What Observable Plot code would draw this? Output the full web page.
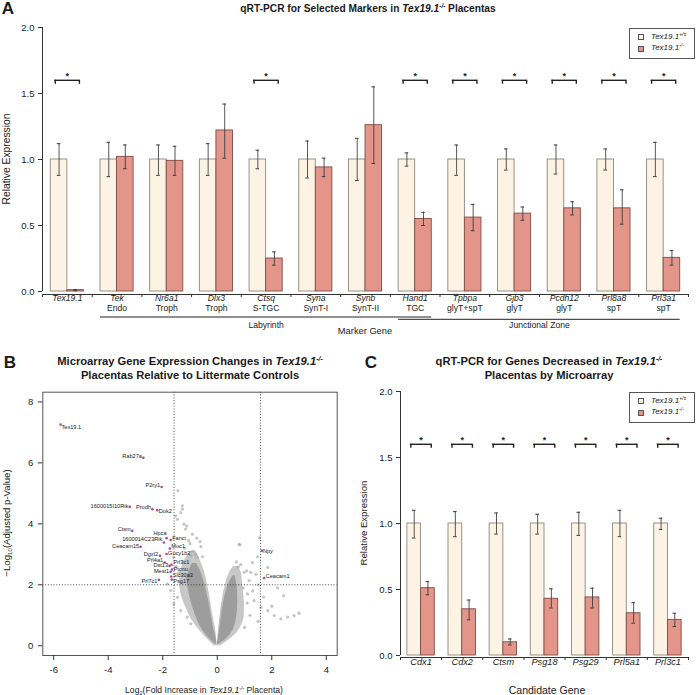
<!DOCTYPE html>
<html>
<head>
<meta charset="utf-8">
<script src="https://cdn.jsdelivr.net/npm/d3@7"></script>
<script src="https://cdn.jsdelivr.net/npm/@observablehq/plot@0.6"></script>
<style>
  body { margin: 0; background: #fff; font-family: "Liberation Sans", Arial, Helvetica, sans-serif; color: #1a1a1a; }
  #page { position: relative; width: 696px; height: 695px; overflow: hidden; background: #fff; }
  .abs { position: absolute; white-space: nowrap; line-height: 1; }
  .sup { font-size: 0.62em; position: relative; top: -0.6em; font-style: italic; }
  .sub { font-size: 0.65em; position: relative; top: 0.35em; }
  .legend { position: absolute; border: 1px solid #555; background: #fff; box-sizing: border-box; }
  .sw { position: absolute; width: 6px; height: 6px; border: 1px solid #555; box-sizing: border-box; }
  .lt { position: absolute; font-style: italic; white-space: nowrap; line-height: 1; }
</style>
</head>
<body>
<div id="page"></div>
<script>
// ---------------- DATA ----------------
// Panel A: qRT-PCR for selected markers
const markerGenes = ["Tex19.1","Tek","Nr6a1","Dlx3","Ctsq","Syna","Synb","Hand1","Tpbpa","Gjb3","Pcdh12","Prl8a8","Prl3a1"];
const markerCellTypes = ["","Endo","Troph","Troph","S-TGC","SynT-I","SynT-II","TGC","glyT+spT","glyT","glyT","spT","spT"];
const markerWT     = [1,1,1,1,1,1,1,1,1,1,1,1,1];
const markerWTLow  = [0.88,0.87,0.88,0.88,0.93,0.86,0.84,0.95,0.88,0.92,0.89,0.92,0.87];
const markerWTHigh = [1.12,1.13,1.11,1.12,1.07,1.14,1.16,1.05,1.11,1.08,1.11,1.08,1.13];
const markerKO     = [0.01,1.02,0.99,1.22,0.25,0.94,1.26,0.55,0.56,0.59,0.63,0.63,0.255];
const markerKOLow  = [0.005,0.93,0.88,1.01,0.20,0.87,0.97,0.50,0.46,0.54,0.58,0.51,0.20];
const markerKOHigh = [0.015,1.11,1.10,1.42,0.30,1.01,1.55,0.60,0.66,0.64,0.68,0.77,0.31];
const markerSignificant = [true,false,false,false,true,false,false,true,true,true,true,true,true];
const markerZones = [
  {zone: "Labyrinth", first: "Tek", last: "Hand1"},
  {zone: "Junctional Zone", first: "Hand1", last: "Prl3a1"}
];

// Panel C: qRT-PCR for genes decreased by microarray
const candidateGenes = ["Cdx1","Cdx2","Ctsm","Psg18","Psg29","Prl5a1","Prl3c1"];
const candidateWT     = [1,1,1,1,1,1,1];
const candidateWTLow  = [0.89,0.90,0.92,0.92,0.91,0.90,0.955];
const candidateWTHigh = [1.10,1.09,1.08,1.07,1.085,1.10,1.04];
const candidateKO     = [0.51,0.35,0.10,0.43,0.44,0.32,0.27];
const candidateKOLow  = [0.46,0.27,0.08,0.36,0.36,0.245,0.22];
const candidateKOHigh = [0.56,0.42,0.125,0.505,0.51,0.40,0.32];
const candidateSignificant = [true,true,true,true,true,true,true];

const significanceLevel = 1.6;
const barTicks = [0, 0.5, 1, 1.5, 2];

// Panel B: volcano plot — labelled genes
const volcanoGenes   = ["Tex19.1","Rab27a","P2ry1","1600015I10Rik","Prodh","Dok2","Ctsm","Hpca","Fanci","1600014C23Rik","Ceacam15","Muc1","Gucy1b2","Dgxl2","Prl4a1","Prl3c1","Dst13","Mest1","Ptcnu","Slc30a3","Psg17","Prl7c1","Npy","Ceacam1"];
const volcanoLog2FC  = [-5.75,-2.71,-2.04,-3.21,-2.38,-2.20,-3.12,-1.86,-1.71,-1.96,-2.81,-1.74,-1.86,-2.10,-1.93,-1.68,-1.75,-1.71,-1.66,-1.69,-1.67,-2.14,1.64,1.72];
const volcanoNegLogP = [7.26,6.17,5.21,4.56,4.48,4.45,3.77,3.53,3.47,3.39,3.25,3.19,3.01,2.95,2.73,2.66,2.62,2.43,2.50,2.27,2.17,2.16,3.12,2.22];
// label placement (style): anchor, dx, dy in px
const volcanoLabelStyle = [
  ["start",1,2.5],["end",-1.5,-2],["end",-1.5,-2],["end",-1.5,-1],["end",-1.5,-2.5],["start",1.5,1.5],
  ["end",-1.5,-1.5],["end",0,-4.5],["start",1.5,-2],["end",-1.5,-3],["end",-1.5,-1],["start",1.5,-2.4],
  ["start",1.5,-1],["end",-2,-1.8],["end",-1.5,-2.7],["start",2,-2.7],["end",-1.5,-0.4],["end",-1.5,-0.2],
  ["start",1.5,-0.7],["start",1.5,-1],["start",1.5,1.8],["end",-1.5,1.5],["start",1,0.5],["start",1.5,-1.5]
];
// Volcano: scattered (outlying) gray points
const volcanoScatterFC = [-1.44,-1.28,-1.22,-1.12,-1.16,-0.91,-0.75,-0.63,-0.54,-0.73,-0.97,-1.46,-1.34,-1.28,-1.53,-1.83,-1.71,-1.46,-1.59,-1.34,-1.10,-0.97,-1.10,-1.50,-1.40,-1.20,-0.90,-1.00,-1.60,-1.25,-0.80,-0.60,-1.05,
  0.83,0.77,0.86,1.08,1.23,1.42,1.55,0.80,1.48,1.85,2.21,2.43,2.58,2.82,2.33,2.09,3.00,1.85,1.60,1.35,1.11,1.17,0.99,1.29,1.50,1.30,1.70,2.00,1.20,1.50,1.00,0.95,1.10,0.70];
const volcanoScatterP  = [5.09,4.48,3.99,3.93,3.83,3.66,3.53,3.42,2.92,2.90,2.95,4.15,4.37,4.59,4.26,2.03,1.81,1.59,1.37,1.15,0.94,0.72,2.24,2.60,2.40,3.20,3.10,3.35,2.90,2.75,3.00,3.25,3.45,
  3.31,2.59,2.66,2.46,2.41,2.35,3.54,3.33,2.92,2.57,1.90,1.64,0.94,0.99,0.88,0.99,1.07,1.15,1.26,1.48,1.70,2.14,2.41,2.73,2.00,1.80,1.60,1.30,1.00,0.80,0.60,1.90,1.40,2.75];
// Volcano: envelope of the dense point cloud (y, outer x, inner x)
const cloudLeftFringe  = {y:[0,0.4,0.8,1.2,1.6,2.0,2.4,2.8,3.1], outer:[-0.12,-0.55,-0.9,-1.12,-1.3,-1.38,-1.35,-1.2,-0.98], inner:[0,-0.04,-0.12,-0.2,-0.27,-0.36,-0.46,-0.62,-0.78]};
const cloudLeftCore    = {y:[0.05,0.3,0.6,1.0,1.4,1.8,2.2,2.5,2.7], outer:[-0.07,-0.36,-0.6,-0.8,-0.95,-1.05,-1.1,-1.02,-0.9], inner:[-0.01,-0.06,-0.14,-0.22,-0.3,-0.4,-0.52,-0.64,-0.76]};
const cloudRightFringe = {y:[0,0.4,0.8,1.2,1.6,2.0,2.4,2.6], outer:[0.13,0.7,0.95,1.0,0.98,0.93,0.88,0.78], inner:[0,0.03,0.08,0.13,0.2,0.3,0.45,0.6]};
const cloudRightCore   = {y:[0.05,0.3,0.6,1.0,1.4,1.8,2.1,2.3], outer:[0.07,0.42,0.62,0.72,0.75,0.74,0.7,0.66], inner:[0.01,0.05,0.1,0.16,0.23,0.33,0.46,0.58]};
const volcanoFCThresholds = [-1.585, 1.585];
const volcanoPThreshold = [2];
const volcanoXTicks = [-6,-4,-2,0,2,4];
const volcanoYTicks = [0,2,4,6,8];

// ---------------- STYLE ----------------
const FONT = '"Liberation Sans", Arial, Helvetica, sans-serif';
const CREAM = "#fdf3e4", CREAM_STROKE = "#8f867c";
const RED = "#e4958a", RED_STROKE = "#7e4c45";
const ERR = "#3a3a3a";
const page = document.getElementById("page");

function place(svg, left, top) {
  svg.style.position = "absolute";
  svg.style.left = left + "px";
  svg.style.top = top + "px";
  page.appendChild(svg);
}
function label(html, cx, cy, css = {}) {
  const d = document.createElement("div");
  d.className = "abs";
  d.innerHTML = html;
  d.style.left = cx + "px";
  d.style.top = cy + "px";
  d.style.transform = "translate(-50%,-50%)" + (css.rotate ? " rotate(-90deg)" : "");
  d.style.fontSize = (css.size || 10) + "px";
  if (css.bold) d.style.fontWeight = "bold";
  if (css.italic) d.style.fontStyle = "italic";
  page.appendChild(d);
}
function legend(left, top) {
  const box = document.createElement("div");
  box.className = "legend";
  box.style.left = left + "px"; box.style.top = top + "px";
  box.style.width = "66px"; box.style.height = "31px";
  const items = [[CREAM, "+/±"], [RED, "-/-"]];
  items.forEach(([c, g], i) => {
    const sw = document.createElement("div");
    sw.className = "sw"; sw.style.background = c;
    sw.style.left = "8px"; sw.style.top = (5.5 + i * 11.7) + "px";
    box.appendChild(sw);
    const t = document.createElement("div");
    t.className = "lt"; t.style.fontSize = "8px";
    t.style.left = "21px"; t.style.top = (4 + i * 11.7) + "px";
    t.innerHTML = `Tex19.1<span class="sup">${g}</span>`;
    box.appendChild(t);
  });
  page.appendChild(box);
}

// ---------------- BAR PANELS ----------------
function barPanel(cfg) {
  const {genes, wt, wtLo, wtHi, ko, koLo, koHi, significant, width, height,
         frameLeft, frameRight, yZero, yTop, axisGap, geneDy, geneFont, tickFont, bracketInset, extra} = cfg;
  const domain = ["start"];
  genes.forEach((g, i) => { domain.push(g + "|WT", g + "|KO"); if (i < genes.length - 1) domain.push(g + "|gap"); });
  domain.push("end");
  const step = (frameRight - frameLeft) / (genes.length * 3);
  const wtRows = genes.map((g, i) => ({gene: g, key: g + "|WT", v: wt[i], lo: wtLo[i], hi: wtHi[i]}));
  const koRows = genes.map((g, i) => ({gene: g, key: g + "|KO", v: ko[i], lo: koLo[i], hi: koHi[i]}));
  const allRows = wtRows.concat(koRows);
  const sig = genes.filter((g, i) => significant[i]);
  const tickKeys = ["start", ...genes.slice(0, -1).map(g => g + "|gap"), "end"];
  const capInset = step / 2 - 1.8;
  const marks = [
    Plot.barY(wtRows, {x: "key", y: "v", fill: CREAM, stroke: CREAM_STROKE, strokeWidth: 0.9}),
    Plot.barY(koRows, {x: "key", y: "v", fill: RED, stroke: RED_STROKE, strokeWidth: 0.9}),
    Plot.ruleX(allRows, {x: "key", y1: "lo", y2: "hi", stroke: ERR, strokeOpacity: 0.85}),
    Plot.tickY(allRows, {x: "key", y: "lo", stroke: ERR, insetLeft: capInset, insetRight: capInset}),
    Plot.tickY(allRows, {x: "key", y: "hi", stroke: ERR, insetLeft: capInset, insetRight: capInset}),
    Plot.ruleY(sig, {x1: g => g + "|WT", x2: g => g + "|KO", y: significanceLevel, insetLeft: bracketInset, insetRight: bracketInset, stroke: "#222", strokeWidth: 1.4}),
    Plot.ruleX(sig, {x: g => g + "|WT", y1: significanceLevel, y2: significanceLevel - 0.03, dx: -(step / 2 - bracketInset - 0.5), stroke: "#222", strokeWidth: 1.4}),
    Plot.ruleX(sig, {x: g => g + "|KO", y1: significanceLevel, y2: significanceLevel - 0.03, dx: (step / 2 - bracketInset - 0.5), stroke: "#222", strokeWidth: 1.4}),
    Plot.text(sig, {x: g => g + "|WT", y: significanceLevel, dx: step / 2, dy: -4, text: () => "*", fontSize: 9, fontWeight: "bold", fill: "#222"}),
    Plot.ruleY([0], {dy: axisGap, stroke: "#333"}),
    Plot.ruleX(["start"], {y1: 0, y2: 2, stroke: "#333"}),
    Plot.axisY({ticks: barTicks, tickFormat: d3.format(".1f"), tickSize: 4, tickPadding: 4, fontSize: tickFont, label: null, stroke: "#333"}),
    Plot.axisX(tickKeys, {tickSize: 3, tickFormat: () => "", label: null, stroke: "#333"}),
    Plot.text(genes, {x: g => g + "|WT", y: 0, dx: step / 2, dy: geneDy, text: g => g, fontStyle: "italic", fontSize: geneFont, fill: "#1a1a1a"}),
    ...(extra ? extra(domain, step) : [])
  ];
  return Plot.plot({
    width, height,
    marginLeft: frameLeft, marginRight: width - frameRight,
    marginTop: yTop, marginBottom: height - (yZero + axisGap),
    x: {type: "band", domain, range: [frameLeft - step / 2, frameRight + step / 2], padding: 0, round: false},
    y: {domain: [0, 2], range: [yZero, yTop]},
    style: {background: "transparent", fontFamily: FONT, fontSize: tickFont + "px", color: "#1a1a1a", overflow: "visible"},
    marks
  });
}

// Panel A
const plotA = barPanel({
  genes: markerGenes, wt: markerWT, wtLo: markerWTLow, wtHi: markerWTHigh,
  ko: markerKO, koLo: markerKOLow, koHi: markerKOHigh, significant: markerSignificant,
  width: 696, height: 340, frameLeft: 42, frameRight: 688, yZero: 291, yTop: 27, axisGap: 3,
  geneDy: 6.5, geneFont: 8.6, tickFont: 9.5, bracketInset: 4,
  extra: (domain, step) => {
    const cellRows = markerGenes.map((g, i) => ({g, c: markerCellTypes[i]}));
    const m = [Plot.text(cellRows, {x: d => d.g + "|WT", y: 0, dx: step / 2, dy: 16.5, text: "c", fontSize: 8.6, fill: "#1a1a1a"})];
    markerZones.forEach((z, i) => {
      const iF = domain.indexOf(z.first + "|WT"), iL = domain.indexOf(z.last + "|KO");
      m.push(Plot.ruleY([z], {x1: d => d.first + "|WT", x2: d => d.last + "|KO", y: 0, dy: 25.5 + 2.3 * i, stroke: "#222", strokeWidth: 1}));
      const s = iF + iL;
      m.push(Plot.text([z], {x: () => domain[Math.floor(s / 2)], y: 0, dx: s % 2 ? step / 2 : 0, dy: 34, text: "zone", fontSize: 8.6, fill: "#1a1a1a"}));
    });
    return m;
  }
});
place(plotA, 0, 0);

// Panel C
const plotC = barPanel({
  genes: candidateGenes, wt: candidateWT, wtLo: candidateWTLow, wtHi: candidateWTHigh,
  ko: candidateKO, koLo: candidateKOLow, koHi: candidateKOHigh, significant: candidateSignificant,
  width: 348, height: 355, frameLeft: 52, frameRight: 340, yZero: 315, yTop: 51, axisGap: 2,
  geneDy: 7, geneFont: 9.2, tickFont: 9.5, bracketInset: 3
});
place(plotC, 348, 340);

// ---------------- PANEL B (volcano) ----------------
const toRows = o => o.y.map((y, i) => ({y, outer: o.outer[i], inner: o.inner[i]}));
const scatterRows = volcanoScatterFC.map((x, i) => ({x, y: volcanoScatterP[i]}));
const labelRows = volcanoGenes.map((g, i) => ({gene: g, x: volcanoLog2FC[i], y: volcanoNegLogP[i]}));
const labelMarks = labelRows.map((d, i) => Plot.text([d], {
  x: "x", y: "y", text: "gene", textAnchor: volcanoLabelStyle[i][0],
  dx: volcanoLabelStyle[i][1], dy: volcanoLabelStyle[i][2], fontSize: 5.6, fill: "#1a1a1a"
}));
const plotB = Plot.plot({
  width: 348, height: 355,
  marginLeft: 42.3, marginRight: 11.3, marginTop: 51.7, marginBottom: 40,
  x: {domain: [-6.4, 4.4]},
  y: {domain: [-0.32, 8.32]},
  style: {background: "transparent", fontFamily: FONT, fontSize: "9.5px", color: "#1a1a1a", overflow: "visible"},
  marks: [
    Plot.areaX(toRows(cloudLeftFringe), {y: "y", x1: "outer", x2: "inner", fill: "#bdbdbd", fillOpacity: 0.85, curve: "catmull-rom"}),
    Plot.areaX(toRows(cloudRightFringe), {y: "y", x1: "outer", x2: "inner", fill: "#bdbdbd", fillOpacity: 0.85, curve: "catmull-rom"}),
    Plot.areaX(toRows(cloudLeftCore), {y: "y", x1: "outer", x2: "inner", fill: "#959595", fillOpacity: 0.85, curve: "catmull-rom"}),
    Plot.areaX(toRows(cloudRightCore), {y: "y", x1: "outer", x2: "inner", fill: "#959595", fillOpacity: 0.85, curve: "catmull-rom"}),
    Plot.dot(scatterRows, {x: "x", y: "y", r: 1.6, fill: "#a0a0a0", fillOpacity: 0.6}),
    Plot.ruleX(volcanoFCThresholds, {stroke: "#333", strokeDasharray: "1,1.8", strokeWidth: 0.9}),
    Plot.ruleY(volcanoPThreshold, {stroke: "#333", strokeDasharray: "1,1.8", strokeWidth: 0.9}),
    Plot.dot(labelRows, {x: "x", y: "y", r: 1.3, fill: "#b24a8a"}),
    ...labelMarks,
    Plot.frame({stroke: "#555"}),
    Plot.axisY({ticks: volcanoYTicks, tickFormat: d => String(d), tickSize: 4.5, tickPadding: 5, label: null, stroke: "#333"}),
    Plot.axisX({ticks: volcanoXTicks, tickFormat: d => String(d), tickSize: 5, tickPadding: 6, label: null, stroke: "#333"})
  ]
});
place(plotB, 0, 340);

// ---------------- TEXT / LEGENDS ----------------
const T = `<i>Tex19.1</i><span class="sup">-/-</span>`;
label("A", 8, 8, {size: 17, bold: true});
label(`qRT-PCR for Selected Markers in ${T} Placentas`, 368, 8.5, {size: 10.2, bold: true});
legend(629, 27.5);
label("Relative Expression", 7, 159, {size: 10.3, rotate: true});
label("Marker Gene", 365, 331.5, {size: 9.3});

label("B", 10, 362, {size: 17, bold: true});
label(`Microarray Gene Expression Changes in ${T}`, 190, 362, {size: 11.2, bold: true});
label("Placentas Relative to Littermate Controls", 190, 375.5, {size: 11.2, bold: true});
label(`−Log<span class="sub">10</span>(Adjusted p-Value)`, 6.5, 523, {size: 9.6, rotate: true});
label(`Log<span class="sub">2</span>(Fold Increase in ${T} Placenta)`, 204, 690, {size: 8.6});

label("C", 371, 361.5, {size: 17, bold: true});
label(`qRT-PCR for Genes Decreased in ${T}`, 549, 362, {size: 11.2, bold: true});
label("Placentas by Microarray", 549, 375.5, {size: 11.2, bold: true});
legend(629, 391.5);
label("Relative Expression", 364, 523, {size: 9.6, rotate: true});
label("Candidate Gene", 547, 690, {size: 10.5});
</script>
</body>
</html>
